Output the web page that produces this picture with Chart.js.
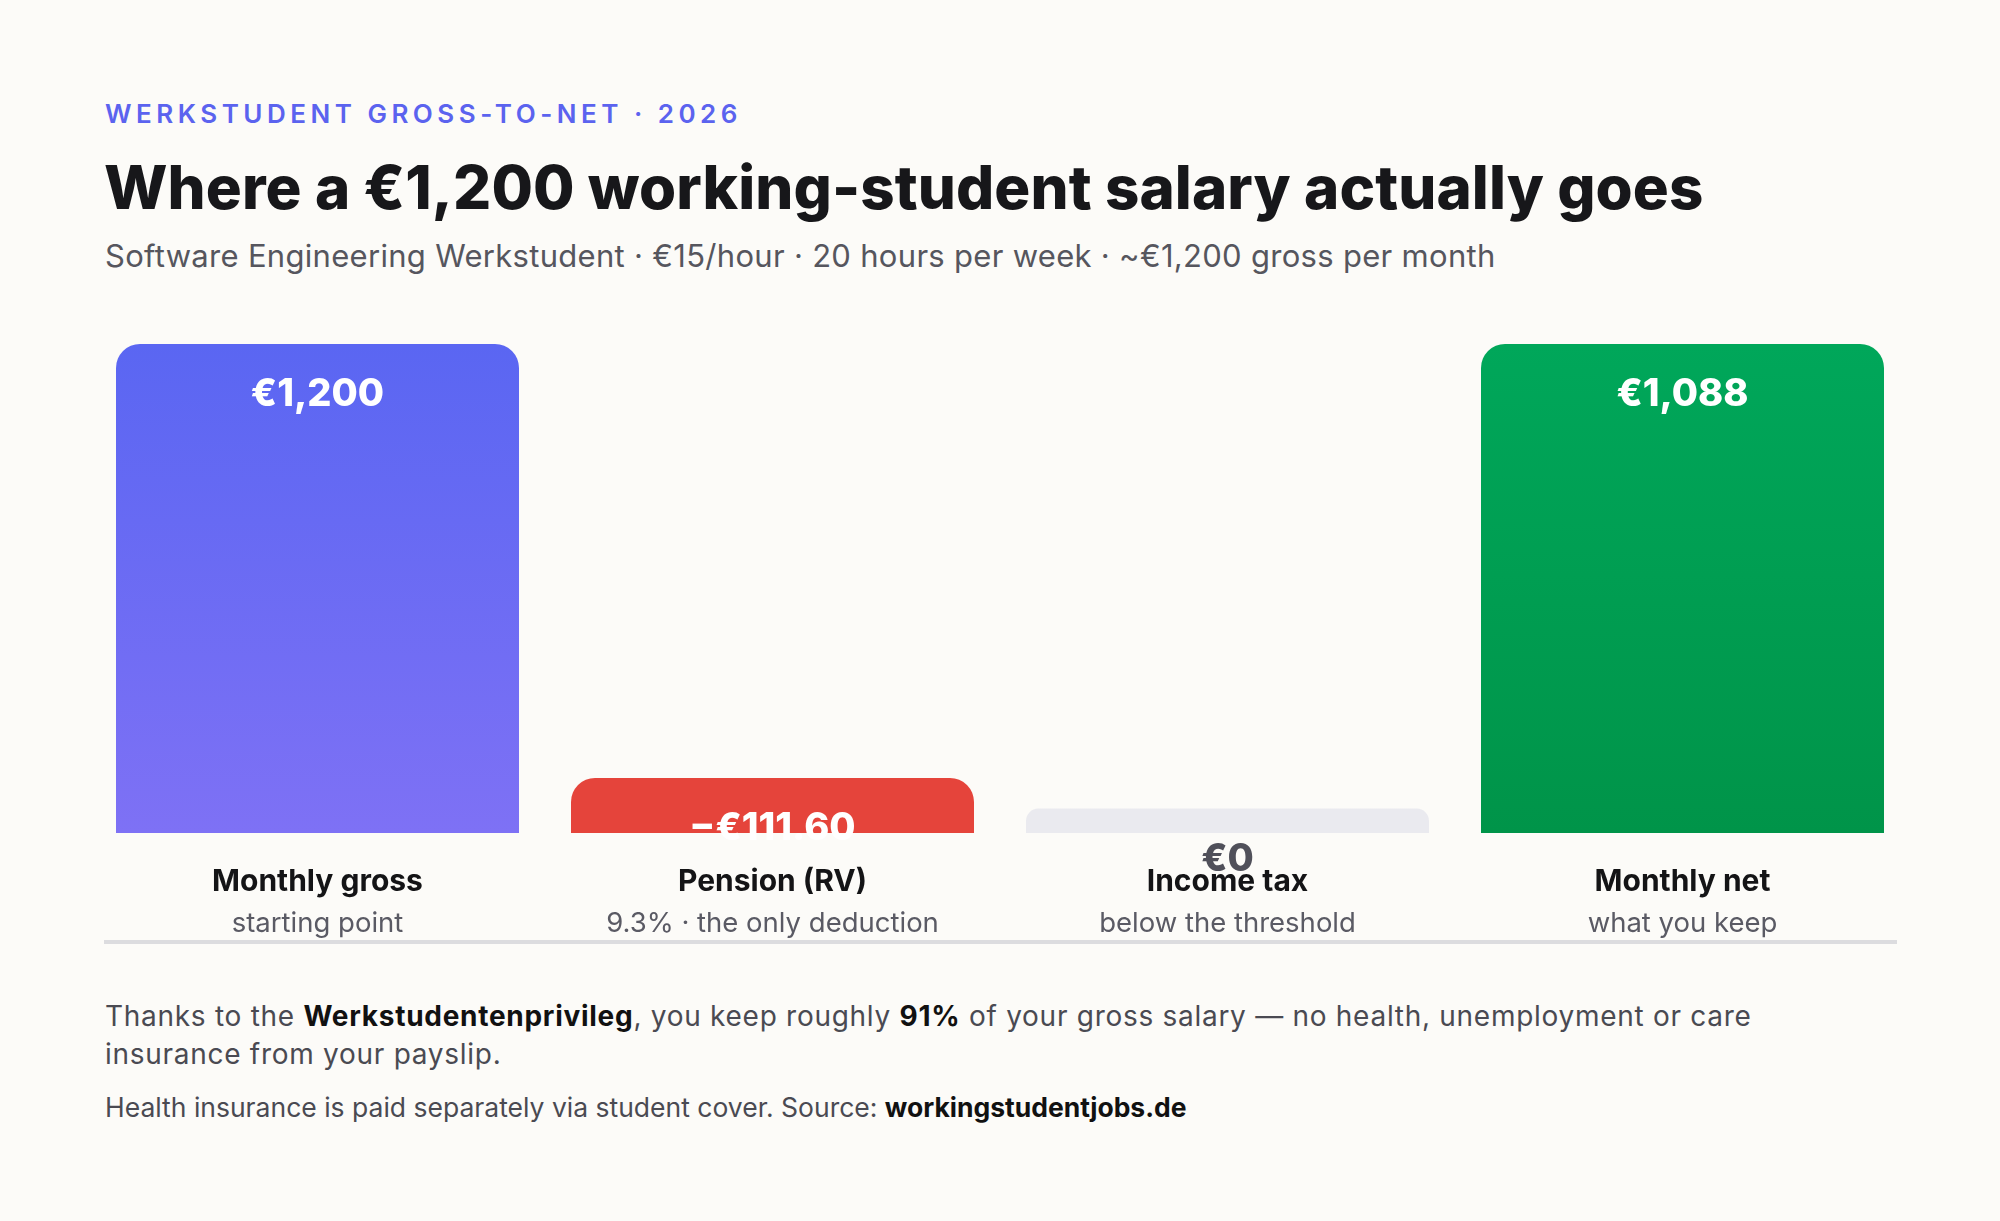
<!DOCTYPE html>
<html>
<head>
<meta charset="utf-8">
<script src="https://cdn.jsdelivr.net/npm/chart.js@4.4.1/dist/chart.umd.min.js"></script>
<style>
  html, body { margin: 0; padding: 0; }
  body { width: 2000px; height: 1221px; background: #fcfbf8; font-family: Inter, "Noto Sans", sans-serif; position: relative; overflow: hidden; }
  .eyebrow { position: absolute; left: 105px; top: 101px; font-size: 26px; line-height: 26px; font-weight: 600; letter-spacing: 4.5px; color: #5b63ef; white-space: nowrap; }
  .title { position: absolute; left: 104px; top: 157px; font-size: 60px; line-height: 60px; font-weight: 800; letter-spacing: 0.1px; color: #17171a; white-space: nowrap; }
  .subtitle { position: absolute; left: 105px; top: 241px; font-size: 31px; line-height: 30px; letter-spacing: 0.3px; color: #56565e; white-space: nowrap; }
  .chart-box { position: absolute; left: 90px; top: 300px; width: 1820px; height: 643px; }
  .baseline { position: absolute; left: 104px; top: 940px; width: 1793px; height: 4px; background: #dcdcdf; }
  .note { position: absolute; left: 105px; top: 997px; width: 1700px; font-size: 28px; line-height: 38px; letter-spacing: 0.72px; color: #4a4a52; }
  .note b, .source b { color: #111; font-weight: 700; }
  .source { position: absolute; left: 105px; top: 1095px; font-size: 26.5px; line-height: 25px; color: #4a4a52; white-space: nowrap; }
</style>
</head>
<body>
<div class="eyebrow">WERKSTUDENT GROSS-TO-NET · 2026</div>
<div class="title">Where a €1,200 working-student salary actually goes</div>
<div class="subtitle">Software Engineering Werkstudent · €15/hour · 20 hours per week · ~€1,200 gross per month</div>
<div class="chart-box"><canvas id="bar-canvas"></canvas></div>
<div class="baseline"></div>
<div class="note">Thanks to the <b>Werkstudentenprivileg</b>, you keep roughly <b>91%</b> of your gross salary — no health, unemployment or care insurance from your payslip.</div>
<div class="source">Health insurance is paid separately via student cover. Source: <b>workingstudentjobs.de</b></div>

<script>
// categories and values
const categories = ['Monthly gross', 'Pension (RV)', 'Income tax', 'Monthly net']
const subLabels = ['starting point', '9.3% · the only deduction', 'below the threshold', 'what you keep']
const amounts = [1200, -111.60, 0, 1088]
// bar heights as they appear in the picture (same units as gross)
const barHeights = [1200, 135, 60, 1200]

const topColors = ['#5a66f2', '#e5443b', '#eaeaef', '#00a75a']
const bottomColors = ['#7e71f5', '#e5443b', '#eaeaef', '#009449']
const valueColors = ['#ffffff', '#ffffff', '#50505a', '#ffffff']

const fmt = (v) => {
    const abs = Math.abs(v)
    const txt = Number.isInteger(abs) ? abs.toLocaleString('en-US') : abs.toFixed(2)
    return (v < 0 ? '−€' : '€') + txt
}

const barGradient = (ctx) => {
    const chart = ctx.chart
    const area = chart.chartArea
    if (!area) return topColors[ctx.dataIndex]
    const g = chart.ctx.createLinearGradient(0, area.top, 0, area.bottom)
    g.addColorStop(0, topColors[ctx.dataIndex])
    g.addColorStop(1, bottomColors[ctx.dataIndex])
    return g
}

const labelPlugin = {
    id: 'barLabels',
    afterDatasetsDraw(chart) {
        const c = chart.ctx
        const meta = chart.getDatasetMeta(0)
        const bottom = chart.chartArea.bottom
        c.save()
        c.textAlign = 'center'
        c.textBaseline = 'alphabetic'
        meta.data.forEach((bar, i) => {
            c.font = '800 38px Inter'
            c.fillStyle = valueColors[i]
            c.fillText(fmt(amounts[i]), bar.x, bar.y + 62)
        })
        meta.data.forEach((bar, i) => {
            c.font = '700 30px Inter'
            c.fillStyle = '#141416'
            c.fillText(categories[i], bar.x, bottom + 58)
            c.font = '400 27.5px Inter'
            c.fillStyle = '#5a5a64'
            c.fillText(subLabels[i], bar.x, bottom + 99)
        })
        c.restore()
    }
}

new Chart(document.getElementById('bar-canvas'), {
    type: 'bar',
    data: {
        labels: categories,
        datasets: [{
            data: barHeights,
            backgroundColor: barGradient,
            borderRadius: { topLeft: 24, topRight: 24, bottomLeft: 0, bottomRight: 0 },
            borderSkipped: 'bottom',
            categoryPercentage: 1,
            barPercentage: 403 / 455
        }]
    },
    options: {
        responsive: true,
        maintainAspectRatio: false,
        animation: false,
        layout: { padding: { top: 44, bottom: 110, left: 0, right: 0 } },
        plugins: { legend: { display: false }, tooltip: { enabled: false } },
        scales: {
            x: { display: false },
            y: { display: false, min: 0, max: 1200 }
        }
    },
    plugins: [labelPlugin]
})
</script>
</body>
</html>
